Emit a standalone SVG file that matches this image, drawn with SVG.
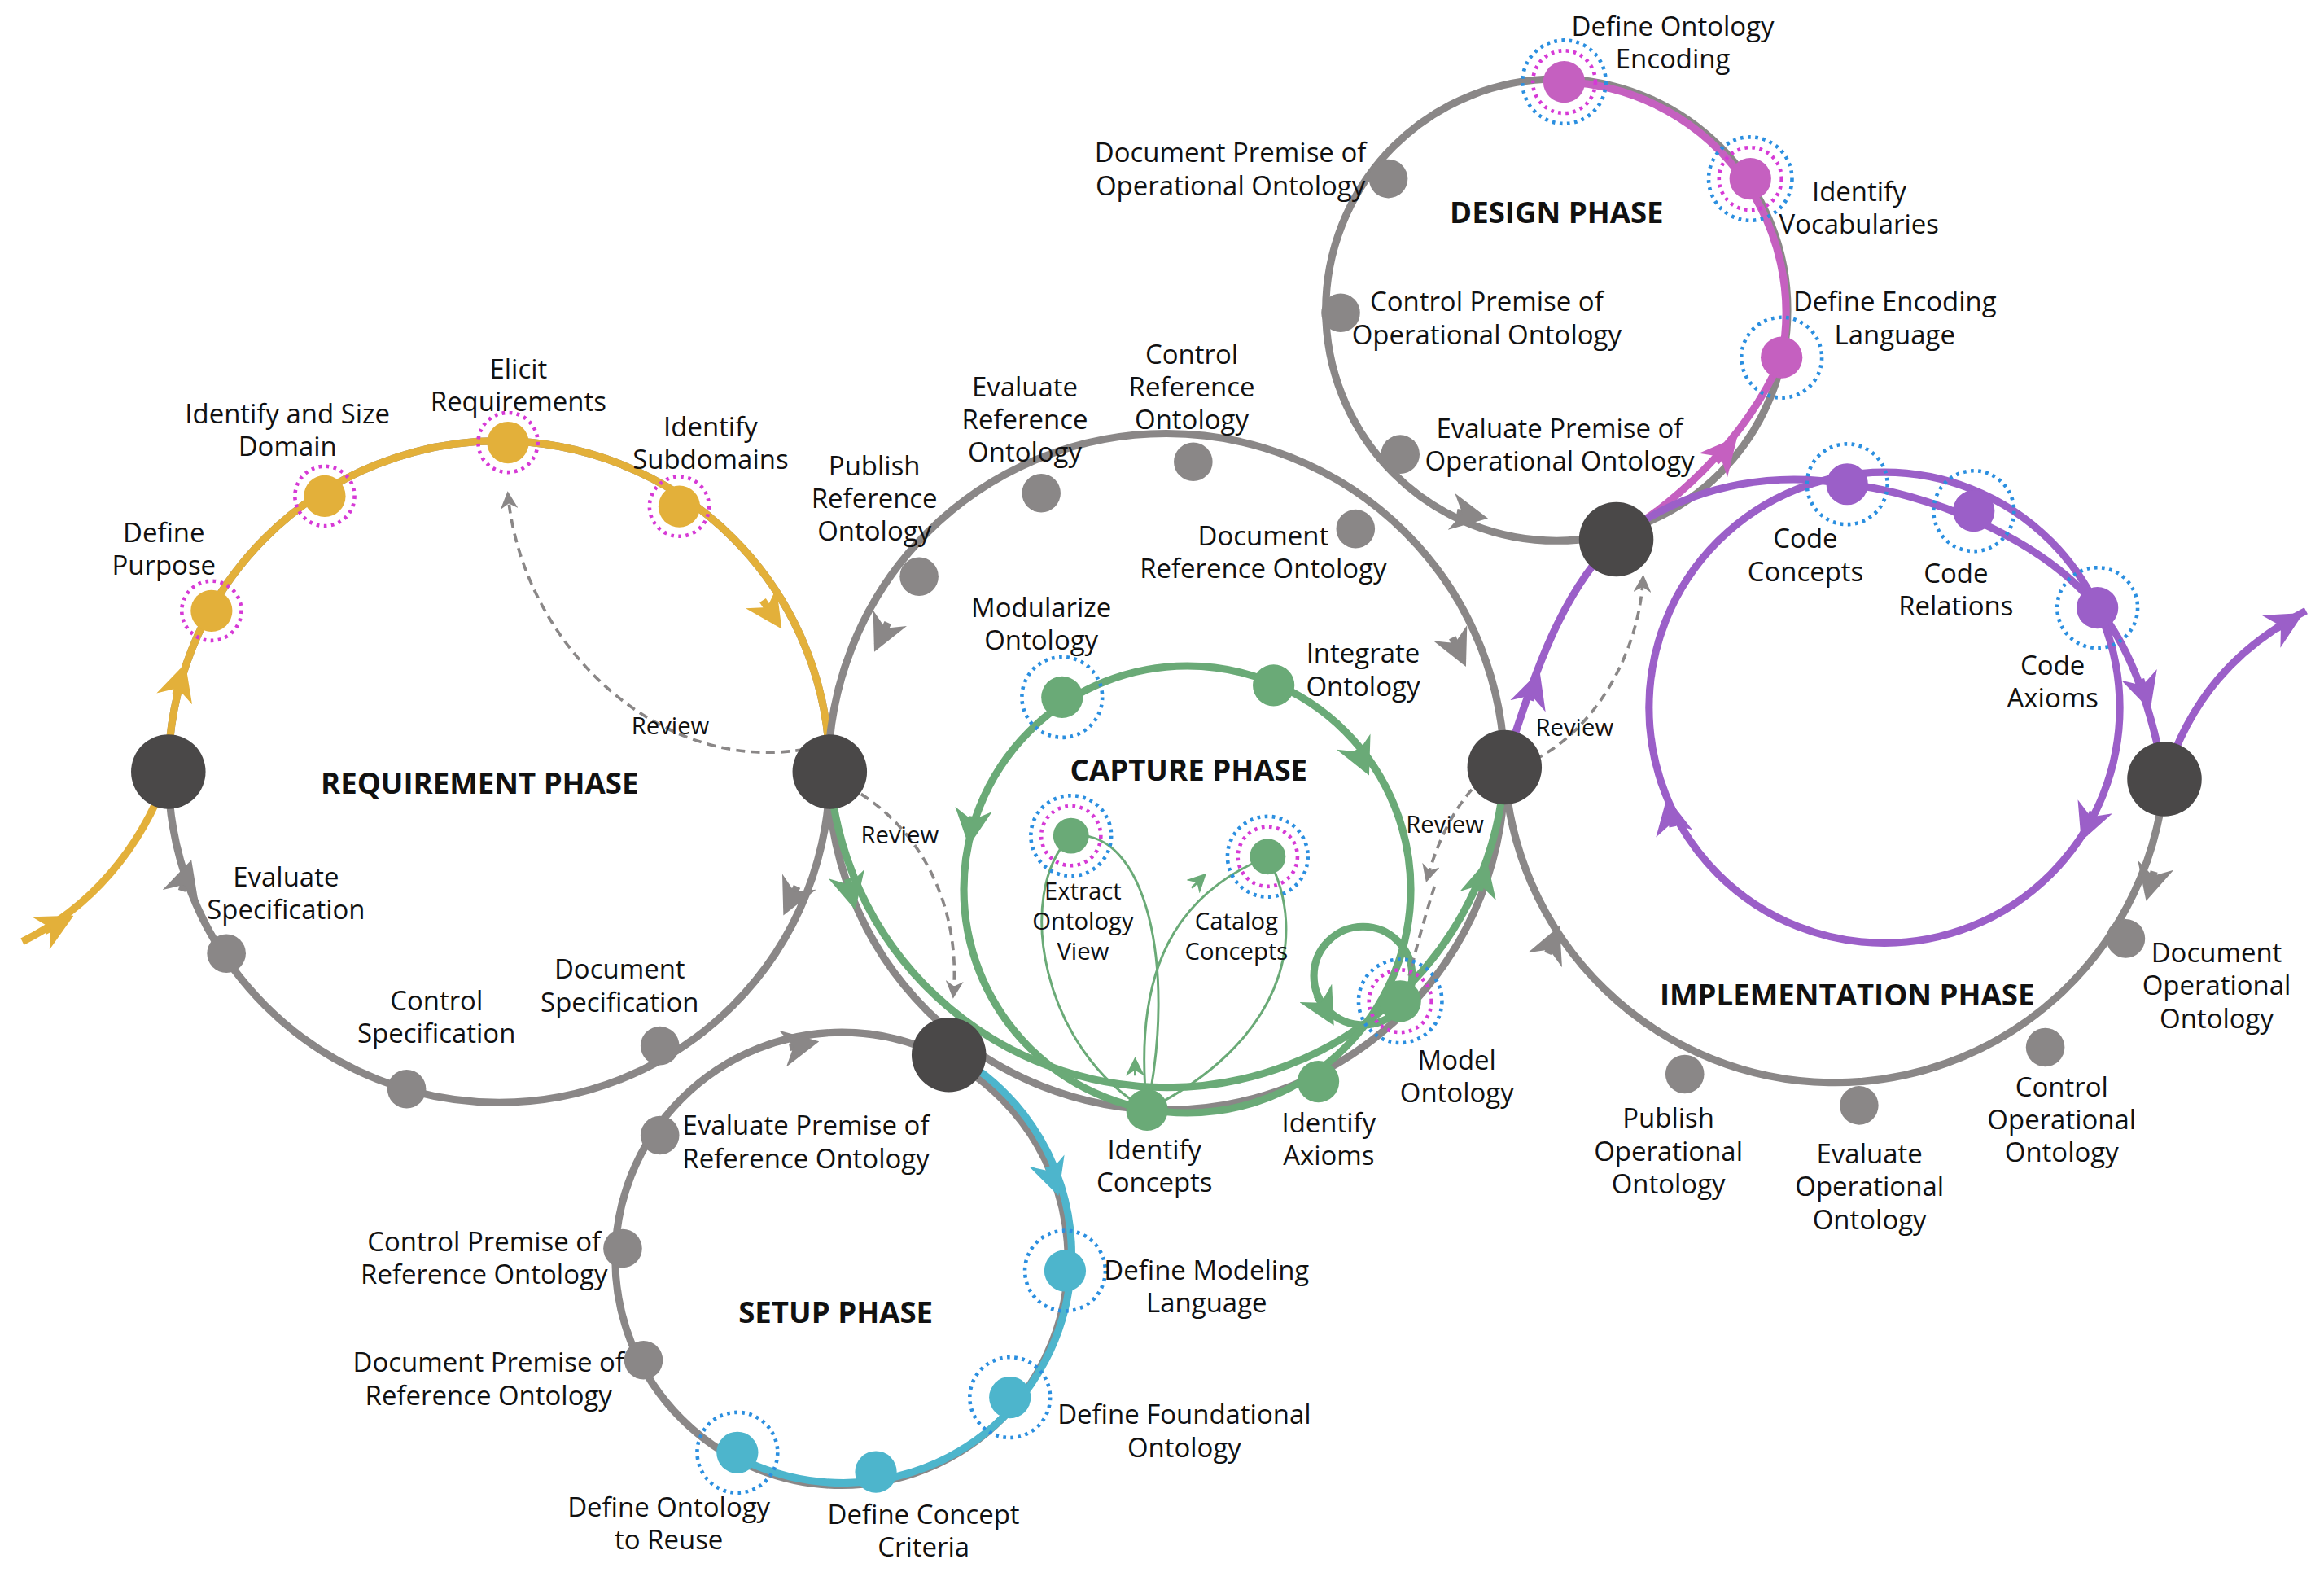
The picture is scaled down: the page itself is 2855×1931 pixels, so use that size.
<svg xmlns="http://www.w3.org/2000/svg" width="2855" height="1931" viewBox="0 0 2855 1931">
<style>
text{font-family:"Open Sans","Liberation Sans",sans-serif;font-size:18px;fill:#111;text-anchor:middle}
.h{font-weight:bold;font-size:20px}
.sm{font-size:16px}
.g{fill:none;stroke:#8a8787;stroke-width:5}
.y{fill:none;stroke:#e3b03a;stroke-width:5}
.gr{fill:none;stroke:#6aaa77;stroke-width:5}
.grt{fill:none;stroke:#6aaa77;stroke-width:1.6}
.p{fill:none;stroke:#9b5fc8;stroke-width:5}
.m{fill:none;stroke:#c560c0;stroke-width:5}
.c{fill:none;stroke:#4db5cc;stroke-width:5}
.d{fill:none;stroke:#8a8787;stroke-width:2;stroke-dasharray:6 4}
.dk{fill:#4a4848}
.gn{fill:#8a8787}
.bl{fill:none;stroke:#2b8fe0;stroke-width:2.5;stroke-dasharray:2 3}
.mg{fill:none;stroke:#d63ad6;stroke-width:2.5;stroke-dasharray:2 3}
</style>
<defs>
<marker id="ay" viewBox="0 0 10 10" refX="8" refY="5" markerWidth="5" markerHeight="5" orient="auto" markerUnits="strokeWidth"><path d="M0,0L10,5L0,10L3,5z" fill="#e3b03a"/></marker>
<marker id="ag" viewBox="0 0 10 10" refX="8" refY="5" markerWidth="5" markerHeight="5" orient="auto" markerUnits="strokeWidth"><path d="M0,0L10,5L0,10L3,5z" fill="#8a8787"/></marker>
<marker id="agr" viewBox="0 0 10 10" refX="8" refY="5" markerWidth="5" markerHeight="5" orient="auto" markerUnits="strokeWidth"><path d="M0,0L10,5L0,10L3,5z" fill="#6aaa77"/></marker>
<marker id="ap" viewBox="0 0 10 10" refX="8" refY="5" markerWidth="5" markerHeight="5" orient="auto" markerUnits="strokeWidth"><path d="M0,0L10,5L0,10L3,5z" fill="#9b5fc8"/></marker>
<marker id="am" viewBox="0 0 10 10" refX="8" refY="5" markerWidth="5" markerHeight="5" orient="auto" markerUnits="strokeWidth"><path d="M0,0L10,5L0,10L3,5z" fill="#c560c0"/></marker>
<marker id="ac" viewBox="0 0 10 10" refX="8" refY="5" markerWidth="5" markerHeight="5" orient="auto" markerUnits="strokeWidth"><path d="M0,0L10,5L0,10L3,5z" fill="#4db5cc"/></marker>
<marker id="ad" viewBox="0 0 10 10" refX="8" refY="5" markerWidth="6" markerHeight="6" orient="auto" markerUnits="strokeWidth"><path d="M0,0L10,5L0,10L3,5z" fill="#8a8787"/></marker>
<marker id="agt" viewBox="0 0 10 10" refX="8" refY="5" markerWidth="8" markerHeight="8" orient="auto" markerUnits="strokeWidth"><path d="M0,0L10,5L0,10L3,5z" fill="#6aaa77"/></marker>
</defs>
<rect width="2855" height="1931" fill="#fff"/>
<g transform="scale(1.83)">
<g id="connectors">
<!-- requirement -->
<circle class="g" cx="335" cy="518" r="222"/>
<path class="y" d="M113,518 A222,222 0 0 1 557,518"/>
<path class="y" d="M15,632 C60,610 95,570 113,518"/>
<path class="y" d="M30,625 L45,617" marker-end="url(#ay)"/>
<path class="y" d="M118,466 L123,450" marker-end="url(#ay)"/>
<path class="y" d="M512,403 L522,418" marker-end="url(#ay)"/>
<path class="g" d="M122,598 L127,582" marker-end="url(#ag)"/>
<path class="g" d="M535,595 L528,610" marker-end="url(#ag)"/>
<!-- capture outer -->
<circle class="g" cx="783" cy="518" r="227"/>
<path class="gr" d="M557,518 A227,227 0 0 0 1010,518"/>
<path class="g" d="M596,418 L589,433" marker-end="url(#ag)"/>
<path class="g" d="M975,428 L982,443" marker-end="url(#ag)"/>
<path class="gr" d="M569,590 L573,606" marker-end="url(#agr)"/>
<path class="gr" d="M993,598 L997,582" marker-end="url(#agr)"/>
<!-- capture inner -->
<circle class="gr" cx="797" cy="597" r="150" stroke-width="4"/>
<circle class="gr" cx="915" cy="655" r="33" stroke-width="4"/>
<path class="gr" stroke-width="4" d="M653,548 L651,563" marker-end="url(#agr)"/>
<path class="gr" stroke-width="4" d="M911,503 L917,516" marker-end="url(#agr)"/>
<path class="gr" stroke-width="4" d="M884,668 L893,684" marker-end="url(#agr)"/>
<path class="grt" d="M770,745 C700,705 680,600 719,561"/>
<path class="grt" d="M719,561 C770,555 790,650 770,745"/>
<path class="grt" d="M770,745 C760,650 790,600 851,575"/>
<path class="grt" d="M851,575 C880,630 860,700 770,745"/>
<path class="grt" d="M762,722 L762,712" marker-end="url(#agt)"/>
<path class="grt" d="M800,596 L808,588" marker-end="url(#agt)"/>
<!-- design -->
<circle class="g" cx="1045" cy="208" r="155"/>
<path class="m" d="M1050,55 A155,155 0 0 1 1196,240"/>
<path class="m" d="M1085,362 C1120,340 1170,300 1196,240"/>
<path class="m" d="M1152,310 L1163,297" marker-end="url(#am)"/>
<path class="g" d="M978,344 L994,347" marker-end="url(#ag)"/>
<!-- implementation -->
<path class="g" d="M1010,515 A222,222 0 0 0 1453,523"/>
<path class="p" d="M1010,515 C1030,450 1050,395 1085,362 C1140,320 1200,318 1240,325 C1290,330 1370,360 1408,408 C1435,440 1447,490 1453,523"/>
<path class="p" d="M1453,523 C1470,470 1500,435 1548,410"/>
<path class="p" d="M1528,422 L1542,414" marker-end="url(#ap)"/>
<path class="p" d="M1027,470 L1032,455" marker-end="url(#ap)"/>
<path class="p" d="M1437,456 L1442,472" marker-end="url(#ap)"/>
<circle class="p" cx="1265" cy="475" r="158"/>
<path class="p" d="M1123,555 L1120,540" marker-end="url(#ap)"/>
<path class="p" d="M1405,545 L1399,560" marker-end="url(#ap)"/>
<path class="g" d="M1039,640 L1045,626" marker-end="url(#ag)"/>
<path class="g" d="M1446,585 L1442,600" marker-end="url(#ag)"/>
<!-- setup -->
<circle class="g" cx="565" cy="845" r="152"/>
<path class="c" d="M637,706 A152,152 0 0 1 495,978"/>
<path class="g" d="M530,703 L545,700" marker-end="url(#ag)"/>
<path class="c" d="M704,783 L709,798" marker-end="url(#ac)"/>
<!-- reviews -->
<path class="d" d="M540,503 C440,520 350,430 341,332" marker-end="url(#ad)"/>
<path class="d" d="M578,533 C620,560 645,610 640,668" marker-end="url(#ad)"/>
<path class="d" d="M1030,510 C1070,490 1100,440 1103,388" marker-end="url(#ad)"/>
<path class="d" d="M988,530 C975,545 965,565 958,590" marker-end="url(#ad)"/>
<path class="d" d="M963,595 C955,620 950,640 946,655"/>
</g>
<g id="n-req-left"><circle class="dk" cx="113" cy="518" r="25"/></g>
<g id="n-req-right"><circle class="dk" cx="557" cy="518" r="25"/></g>
<g id="n-cap-right"><circle class="dk" cx="1010" cy="515" r="25"/></g>
<g id="n-setup-top"><circle class="dk" cx="637" cy="708" r="25"/></g>
<g id="n-design"><circle class="dk" cx="1085" cy="362" r="25"/></g>
<g id="n-impl-right"><circle class="dk" cx="1453" cy="523" r="25"/></g>
<g id="define-purpose"><circle cx="142" cy="410" r="14" fill="#e3b03a"/><circle class="mg" cx="142" cy="410" r="20"/><text x="110" y="364">Define</text><text x="110" y="386">Purpose</text></g>
<g id="identify-size-domain"><circle cx="218" cy="333" r="14" fill="#e3b03a"/><circle class="mg" cx="218" cy="333" r="20"/><text x="193" y="284">Identify and Size</text><text x="193" y="306">Domain</text></g>
<g id="elicit"><circle cx="341" cy="297" r="14" fill="#e3b03a"/><circle class="mg" cx="341" cy="297" r="20"/><text x="348" y="254">Elicit</text><text x="348" y="276">Requirements</text></g>
<g id="subdomains"><circle cx="456" cy="340" r="14" fill="#e3b03a"/><circle class="mg" cx="456" cy="340" r="20"/><text x="477" y="293">Identify</text><text x="477" y="315">Subdomains</text></g>
<g id="eval-spec"><circle class="gn" cx="152" cy="640" r="13"/><text x="192" y="595">Evaluate</text><text x="192" y="617">Specification</text></g>
<g id="control-spec"><circle class="gn" cx="273" cy="731" r="13"/><text x="293" y="678">Control</text><text x="293" y="700">Specification</text></g>
<g id="doc-spec"><circle class="gn" cx="443" cy="702" r="13"/><text x="416" y="657">Document</text><text x="416" y="679">Specification</text></g>
<g id="req-title"><text class="h" x="322" y="533">REQUIREMENT PHASE</text></g>
<g id="reviews"><text class="sm" x="450" y="493">Review</text><text class="sm" x="604" y="566">Review</text><text class="sm" x="1057" y="494">Review</text><text class="sm" x="970" y="559">Review</text></g>
<g id="publish-ref"><circle class="gn" cx="617" cy="387" r="13"/><text x="587" y="319">Publish</text><text x="587" y="341">Reference</text><text x="587" y="363">Ontology</text></g>
<g id="eval-ref"><circle class="gn" cx="699" cy="331" r="13"/><text x="688" y="266">Evaluate</text><text x="688" y="288">Reference</text><text x="688" y="310">Ontology</text></g>
<g id="control-ref"><circle class="gn" cx="801" cy="310" r="13"/><text x="800" y="244">Control</text><text x="800" y="266">Reference</text><text x="800" y="288">Ontology</text></g>
<g id="doc-ref"><circle class="gn" cx="910" cy="355" r="13"/><text x="848" y="366">Document</text><text x="848" y="388">Reference Ontology</text></g>
<g id="modularize"><circle cx="713" cy="468" r="14" fill="#6aaa77"/><circle class="bl" cx="713" cy="468" r="27"/><text x="699" y="414">Modularize</text><text x="699" y="436">Ontology</text></g>
<g id="integrate"><circle cx="855" cy="460" r="14" fill="#6aaa77"/><text x="915" y="445">Integrate</text><text x="915" y="467">Ontology</text></g>
<g id="capture-title"><text class="h" x="798" y="524">CAPTURE PHASE</text></g>
<g id="extract"><circle cx="719" cy="561" r="12" fill="#6aaa77"/><circle class="mg" cx="719" cy="561" r="20"/><circle class="bl" cx="719" cy="561" r="27"/><text class="sm" x="727" y="604">Extract</text><text class="sm" x="727" y="624">Ontology</text><text class="sm" x="727" y="644">View</text></g>
<g id="catalog"><circle cx="851" cy="575" r="12" fill="#6aaa77"/><circle class="mg" cx="851" cy="575" r="20"/><circle class="bl" cx="851" cy="575" r="27"/><text class="sm" x="830" y="624">Catalog</text><text class="sm" x="830" y="644">Concepts</text></g>
<g id="model"><circle cx="940" cy="672" r="14" fill="#6aaa77"/><circle class="mg" cx="940" cy="672" r="21"/><circle class="bl" cx="940" cy="672" r="28"/><text x="978" y="718">Model</text><text x="978" y="740">Ontology</text></g>
<g id="axioms"><circle cx="885" cy="726" r="14" fill="#6aaa77"/><text x="892" y="760">Identify</text><text x="892" y="782">Axioms</text></g>
<g id="concepts"><circle cx="770" cy="745" r="14" fill="#6aaa77"/><text x="775" y="778">Identify</text><text x="775" y="800">Concepts</text></g>
<g id="onto-encoding"><circle cx="1050" cy="55" r="14" fill="#c560c0"/><circle class="mg" cx="1050" cy="55" r="21"/><circle class="bl" cx="1050" cy="55" r="28"/><text x="1123" y="24">Define Ontology</text><text x="1123" y="46">Encoding</text></g>
<g id="vocab"><circle cx="1175" cy="120" r="14" fill="#c560c0"/><circle class="mg" cx="1175" cy="120" r="21"/><circle class="bl" cx="1175" cy="120" r="28"/><text x="1248" y="135">Identify</text><text x="1248" y="157">Vocabularies</text></g>
<g id="enc-lang"><circle cx="1196" cy="240" r="14" fill="#c560c0"/><circle class="bl" cx="1196" cy="240" r="27"/><text x="1272" y="209">Define Encoding</text><text x="1272" y="231">Language</text></g>
<g id="doc-prem-op"><circle class="gn" cx="932" cy="120" r="13"/><text x="826" y="109">Document Premise of</text><text x="826" y="131">Operational Ontology</text></g>
<g id="ctrl-prem-op"><circle class="gn" cx="900" cy="210" r="13"/><text x="998" y="209">Control Premise of</text><text x="998" y="231">Operational Ontology</text></g>
<g id="eval-prem-op"><circle class="gn" cx="940" cy="305" r="13"/><text x="1047" y="294">Evaluate Premise of</text><text x="1047" y="316">Operational Ontology</text></g>
<g id="design-title"><text class="h" x="1045" y="150">DESIGN PHASE</text></g>
<g id="code-concepts"><circle cx="1240" cy="325" r="14" fill="#9b5fc8"/><circle class="bl" cx="1240" cy="325" r="27"/><text x="1212" y="368">Code</text><text x="1212" y="390">Concepts</text></g>
<g id="code-relations"><circle cx="1325" cy="343" r="14" fill="#9b5fc8"/><circle class="bl" cx="1325" cy="343" r="27"/><text x="1313" y="391">Code</text><text x="1313" y="413">Relations</text></g>
<g id="code-axioms"><circle cx="1408" cy="408" r="14" fill="#9b5fc8"/><circle class="bl" cx="1408" cy="408" r="27"/><text x="1378" y="453">Code</text><text x="1378" y="475">Axioms</text></g>
<g id="impl-title"><text class="h" x="1240" y="675">IMPLEMENTATION PHASE</text></g>
<g id="doc-op"><circle class="gn" cx="1427" cy="630" r="13"/><text x="1488" y="646">Document</text><text x="1488" y="668">Operational</text><text x="1488" y="690">Ontology</text></g>
<g id="ctrl-op"><circle class="gn" cx="1373" cy="703" r="13"/><text x="1384" y="736">Control</text><text x="1384" y="758">Operational</text><text x="1384" y="780">Ontology</text></g>
<g id="eval-op"><circle class="gn" cx="1248" cy="742" r="13"/><text x="1255" y="781">Evaluate</text><text x="1255" y="803">Operational</text><text x="1255" y="825">Ontology</text></g>
<g id="pub-op"><circle class="gn" cx="1131" cy="721" r="13"/><text x="1120" y="757">Publish</text><text x="1120" y="779">Operational</text><text x="1120" y="801">Ontology</text></g>
<g id="eval-prem-ref"><circle class="gn" cx="443" cy="762" r="13"/><text x="541" y="762">Evaluate Premise of</text><text x="541" y="784">Reference Ontology</text></g>
<g id="ctrl-prem-ref"><circle class="gn" cx="418" cy="838" r="13"/><text x="325" y="840">Control Premise of</text><text x="325" y="862">Reference Ontology</text></g>
<g id="doc-prem-ref"><circle class="gn" cx="432" cy="913" r="13"/><text x="328" y="921">Document Premise of</text><text x="328" y="943">Reference Ontology</text></g>
<g id="setup-title"><text class="h" x="561" y="888">SETUP PHASE</text></g>
<g id="modeling-lang"><circle cx="715" cy="853" r="14" fill="#4db5cc"/><circle class="bl" cx="715" cy="853" r="27"/><text x="810" y="859">Define Modeling</text><text x="810" y="881">Language</text></g>
<g id="foundational"><circle cx="678" cy="938" r="14" fill="#4db5cc"/><circle class="bl" cx="678" cy="938" r="27"/><text x="795" y="956">Define Foundational</text><text x="795" y="978">Ontology</text></g>
<g id="concept-criteria"><circle cx="588" cy="988" r="14" fill="#4db5cc"/><text x="620" y="1023">Define Concept</text><text x="620" y="1045">Criteria</text></g>
<g id="onto-reuse"><circle cx="495" cy="975" r="14" fill="#4db5cc"/><circle class="bl" cx="495" cy="975" r="27"/><text x="449" y="1018">Define Ontology</text><text x="449" y="1040">to Reuse</text></g>
</g>
</svg>
